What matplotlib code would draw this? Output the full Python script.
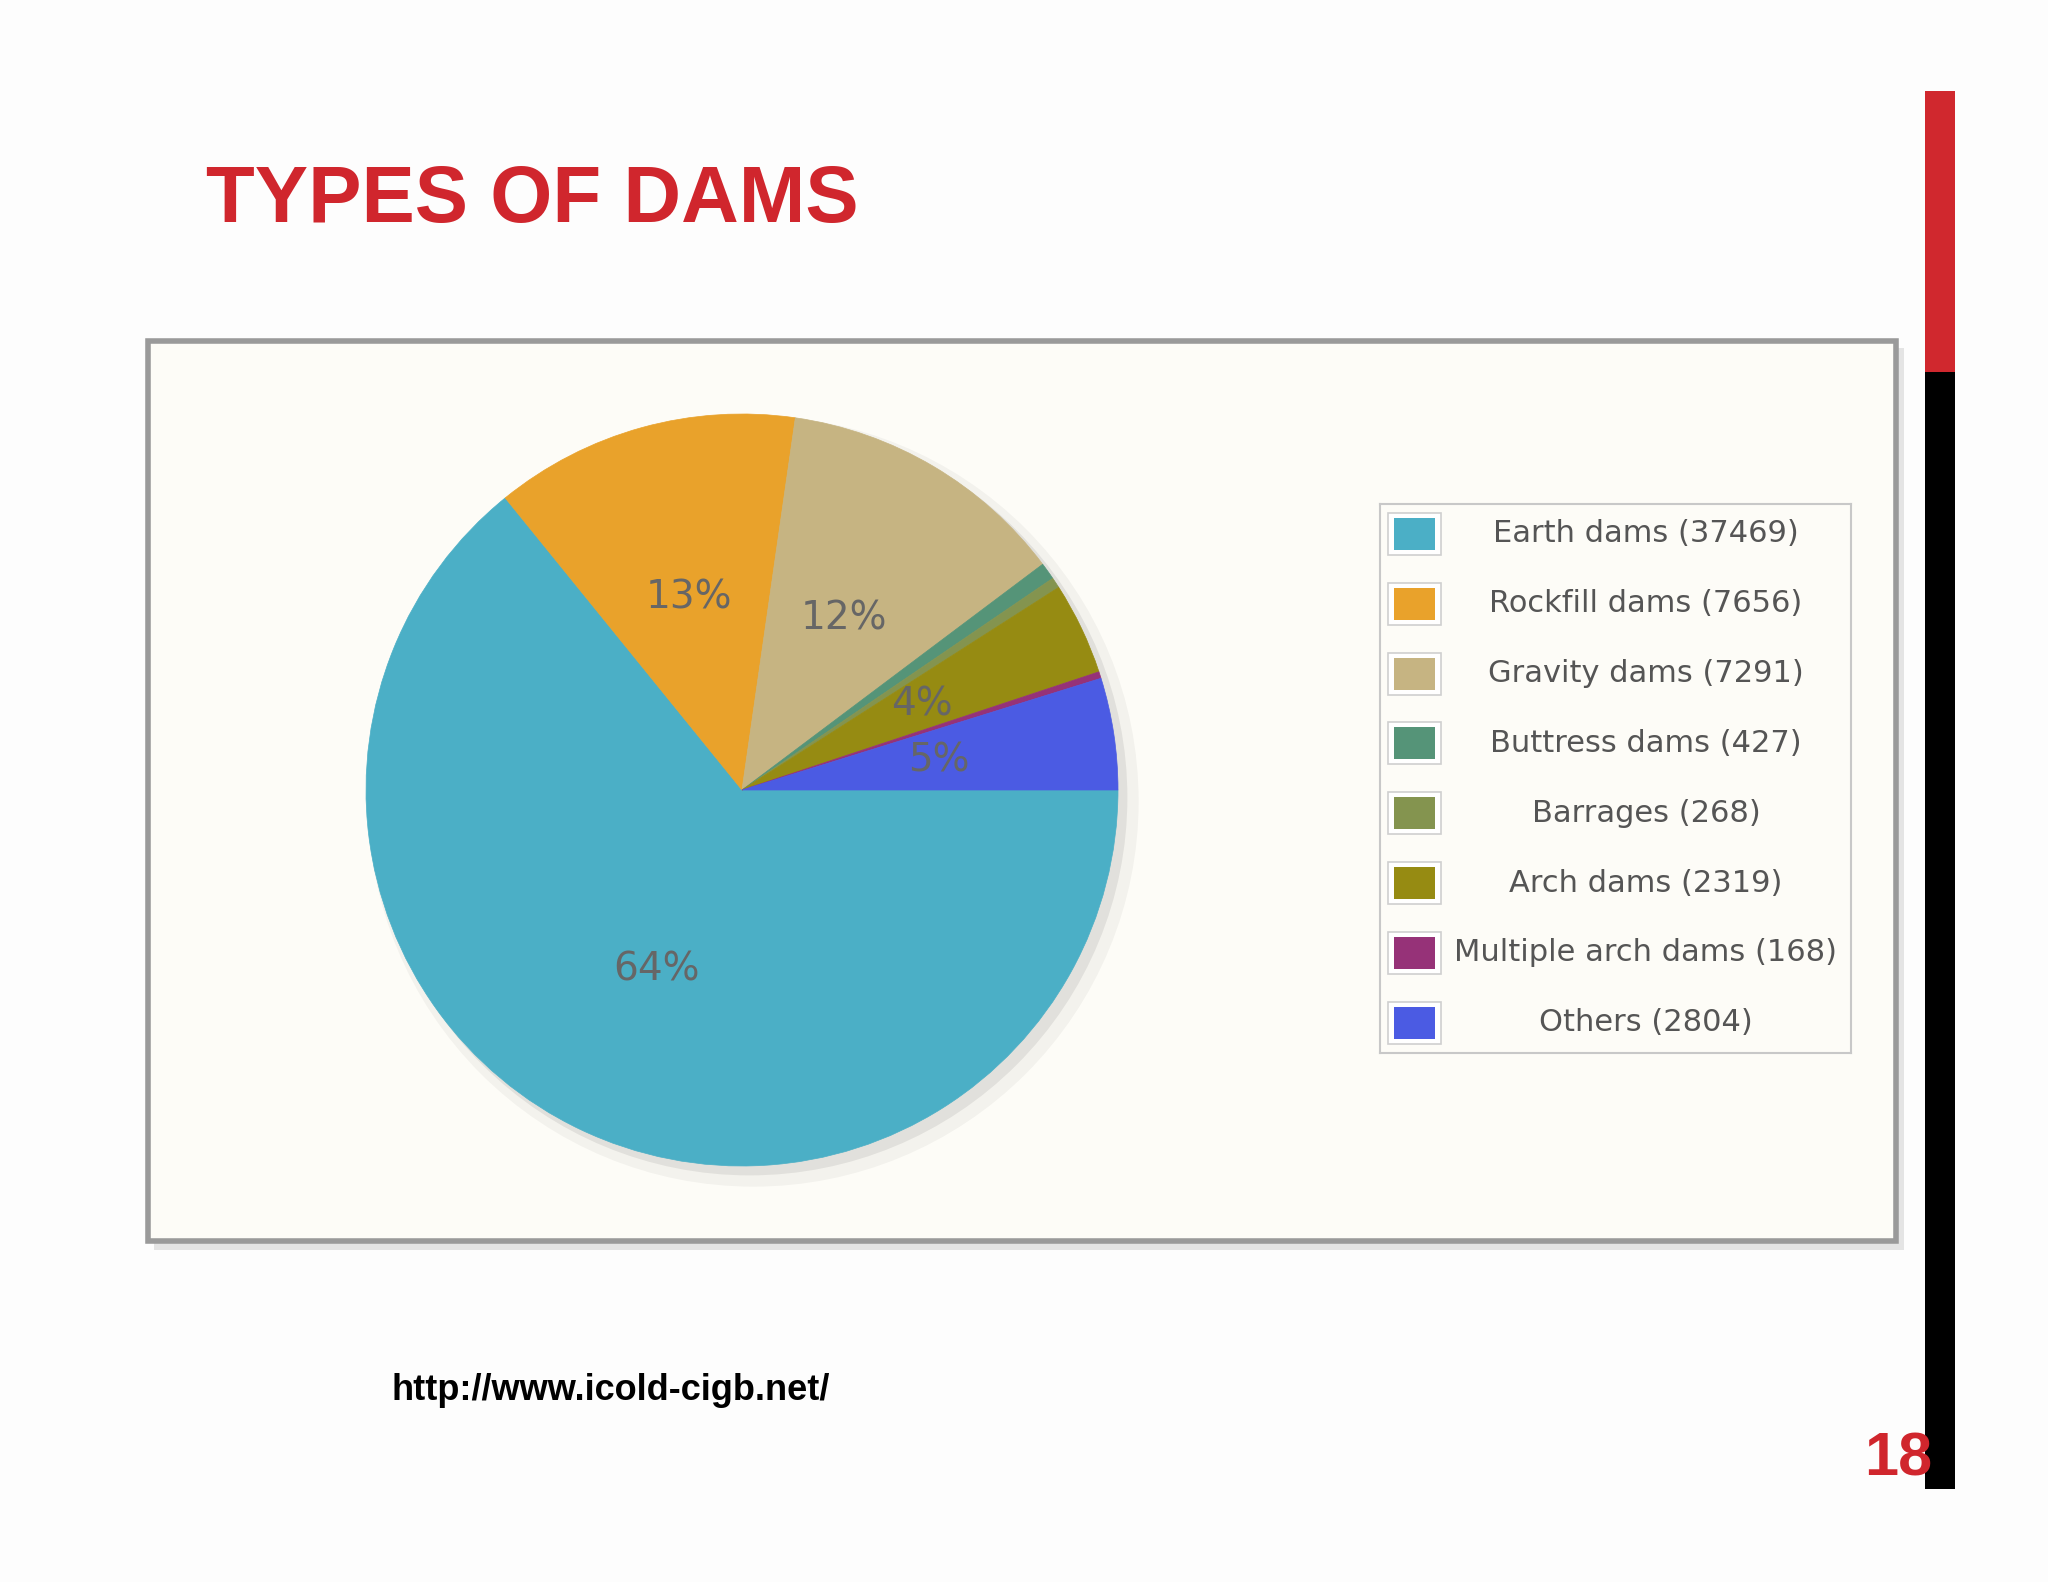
import matplotlib
matplotlib.use('Agg')
import matplotlib.pyplot as plt
from matplotlib.patches import Rectangle, Circle

# data
dam_types = ['Earth dams', 'Rockfill dams', 'Gravity dams', 'Buttress dams',
             'Barrages', 'Arch dams', 'Multiple arch dams', 'Others']
dam_counts = [37469, 7656, 7291, 427, 268, 2319, 168, 2804]
dam_colors = ['#4bafc6', '#e9a22b', '#c6b482', '#559478',
              '#84944f', '#968b12', '#963278', '#4b5be3']

W, H = 2048, 1582
fig = plt.figure(figsize=(W / 100, H / 100), dpi=100)
fig.patch.set_facecolor('#fdfdfd')


def fx(x):
    return x / W


def fy(y):
    return 1 - y / H


def box(x0, y0, x1, y1, **kw):
    r = Rectangle((fx(x0), fy(y1)), (x1 - x0) / W, (y1 - y0) / H,
                  transform=fig.transFigure, **kw)
    fig.add_artist(r)
    return r


# slide decoration
box(154, 348, 1904, 1250, facecolor='#e4e4e4', edgecolor='none', zorder=-3)
box(148, 341, 1896, 1241, facecolor='#fdfcf7', edgecolor='#9a9a9a', lw=4, zorder=-2)
box(1925, 91, 1955, 372, facecolor='#d0282e', edgecolor='none', zorder=2)
box(1925, 372, 1955, 1489, facecolor='#000000', edgecolor='none', zorder=2)

fig.text(fx(206), fy(222), 'TYPES OF DAMS', color='#d0262d', fontsize=57.5,
         fontweight='heavy', family=['Liberation Sans', 'DejaVu Sans'],
         ha='left', va='baseline')
fig.text(fx(392), fy(1390), 'http://www.icold-cigb.net/', color='black',
         fontsize=26, fontweight='bold', family=['Liberation Sans', 'DejaVu Sans'],
         ha='left', va='center')
fig.text(fx(1932), fy(1476), '18', color='#d0262d', fontsize=44, zorder=3,
         fontweight='bold', family=['Liberation Sans', 'DejaVu Sans'],
         ha='right', va='baseline')

# pie
cx, cy, r = 742, 790, 376
ax = fig.add_axes([fx(cx - r), fy(cy + r), 2 * r / W, 2 * r / H])
for off, a, rad in [(0.03, 0.04, 1.025), (0.02, 0.07, 1.005)]:
    ax.add_patch(Circle((off, -off), rad, color='black', alpha=a,
                        lw=0, clip_on=False, zorder=0))


def pct(p):
    return f'{p:.0f}%' if p >= 3 else ''


wedges, texts, autotexts = ax.pie(
    dam_counts, colors=dam_colors, startangle=0, counterclock=False,
    autopct=pct, pctdistance=0.53,
    wedgeprops=dict(linewidth=0.5),
    textprops=dict(color='#666666', fontsize=28,
                   family=['Liberation Sans Narrow', 'DejaVu Sans']))
for w in wedges:
    w.set_edgecolor(w.get_facecolor())
ax.set_xlim(-1, 1)
ax.set_ylim(-1, 1)
ax.set_aspect('equal')
ax.axis('off')

# legend
lx0, ly0, lx1, ly1 = 1380, 504, 1851, 1053
lg = fig.add_axes([fx(lx0), fy(ly1), (lx1 - lx0) / W, (ly1 - ly0) / H])
lg.set_xlim(0, lx1 - lx0)
lg.set_ylim(ly1 - ly0, 0)
lg.set_facecolor('#fdfcf7')
lg.set_xticks([])
lg.set_yticks([])
for s in lg.spines.values():
    s.set_color('#c8c8c8')
    s.set_linewidth(1.5)

for i, (name, n, c) in enumerate(zip(dam_types, dam_counts, dam_colors)):
    yc = 30 + 69.8 * i
    lg.add_patch(Rectangle((8, yc - 21), 53, 42, facecolor='white',
                           edgecolor='#cfcfcf', lw=1.2))
    lg.add_patch(Rectangle((14, yc - 16), 41, 32, facecolor=c, edgecolor='none'))
    lg.text(266, yc, f'{name} ({n})', ha='center', va='center',
            fontsize=22, color='#555555', family=['DejaVu Sans'])

fig.savefig('out.png', dpi=100, facecolor=fig.get_facecolor())
